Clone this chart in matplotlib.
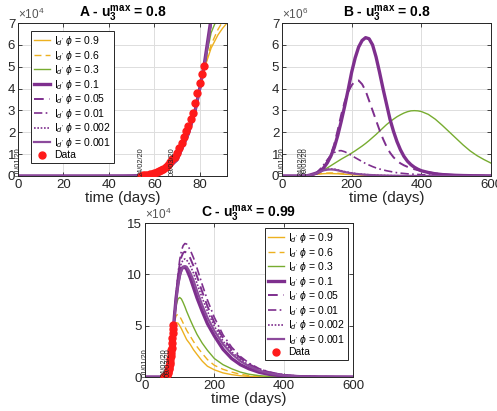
import numpy as np
import matplotlib.pyplot as plt
plt.switch_backend('agg')

plt.rcParams['font.family'] = ['Liberation Sans', 'DejaVu Sans']
plt.rcParams['mathtext.fontset'] = 'custom'
plt.rcParams['mathtext.rm'] = 'Liberation Sans'
plt.rcParams['mathtext.it'] = 'Liberation Sans:italic'
plt.rcParams['mathtext.bf'] = 'Liberation Sans:bold'

# ---- reported data (Italy, active cases), days since 01/01/20
data_t = np.arange(54, 83)
data_y = [221, 311, 385, 588, 821, 1049, 1577, 1835, 2263, 2706, 3296, 3916,
          5061, 6387, 7985, 8514, 10590, 12839, 14955, 17750, 20603, 23073,
          26062, 28710, 33190, 37860, 42681, 46638, 50418]

date_pos = [0, 54, 68]
date_txt = ['01/01/20', '24/02/20', '09/03/20']

phis = ['0.9', '0.6', '0.3', '0.1', '0.05', '0.01', '0.002', '0.001']

# ---- panel A, u3max = 0.8, early phase (units of 1e4)
tA = [0, 30, 45, 50, 55, 60, 65, 70, 75, 78, 80, 82, 85, 88, 90, 92]
A_09 = [0, 0, 0.002, 0.005, 0.015, 0.07, 0.25, 0.75, 1.95, 3.0, 3.85, 4.9, 5.85, 6.45, 6.75, 7.0]
A_06 = [0, 0, 0.002, 0.005, 0.015, 0.07, 0.25, 0.75, 1.95, 3.0, 3.9, 4.95, 6.0, 6.7, 7.05, 7.4]
A_03 = [0, 0, 0.002, 0.005, 0.015, 0.07, 0.25, 0.75, 1.95, 3.0, 3.95, 5.0, 6.55, 7.3, 7.8, 8.4]
A_01 = [0, 0, 0.002, 0.005, 0.015, 0.07, 0.25, 0.75, 1.95, 3.0, 4.0, 5.1, 7.2, 10, 12, 14]
A_005 = [0, 0, 0.002, 0.005, 0.015, 0.07, 0.24, 0.72, 1.9, 2.95, 3.95, 5.05, 7.1, 9.8, 11.8, 13.8]
A_001 = [0, 0, 0.002, 0.005, 0.015, 0.07, 0.24, 0.72, 1.9, 2.95, 3.95, 5.0, 7.0, 9.6, 11.5, 13.5]
A_0002 = [0, 0, 0.002, 0.005, 0.015, 0.07, 0.24, 0.72, 1.9, 2.95, 3.95, 5.0, 7.0, 9.5, 11.3, 13.2]
A_0001 = [0, 0, 0.002, 0.005, 0.015, 0.07, 0.24, 0.72, 1.9, 2.95, 3.95, 5.0, 7.0, 9.5, 11.3, 13.2]

# ---- panel B, u3max = 0.8, full horizon (units of 1e6)
tB = [0, 50, 70, 80, 90, 100, 110, 120, 130, 140, 150, 160, 170, 180, 190, 200,
      210, 220, 230, 240, 250, 260, 270, 280, 290, 300, 310, 320, 330, 340, 350,
      360, 370, 380, 390, 400, 420, 440, 460, 480, 500, 520, 540, 560, 580, 600]
B_09 = [0, 0, 0.005, 0.03, 0.06, 0.08, 0.095, 0.105, 0.11, 0.11, 0.105, 0.1, 0.09, 0.08, 0.07, 0.06,
        0.053, 0.047, 0.04, 0.034, 0.029, 0.025, 0.021, 0.018, 0.015, 0.012, 0.01, 0.008, 0.007, 0.005, 0.004,
        0.003, 0.003, 0.002, 0.002, 0.001, 0, 0, 0, 0, 0, 0, 0, 0, 0, 0]
B_06 = [0, 0, 0.005, 0.03, 0.065, 0.09, 0.11, 0.125, 0.135, 0.14, 0.135, 0.125, 0.115, 0.1, 0.09, 0.078,
        0.068, 0.059, 0.05, 0.043, 0.037, 0.032, 0.027, 0.023, 0.019, 0.016, 0.013, 0.011, 0.009, 0.007, 0.006,
        0.004, 0.004, 0.003, 0.002, 0.002, 0, 0, 0, 0, 0, 0, 0, 0, 0, 0]
B_03 = [0, 0, 0.005, 0.03, 0.07, 0.13, 0.2, 0.28, 0.37, 0.47, 0.57, 0.67, 0.77, 0.86, 0.95, 1.05,
        1.15, 1.26, 1.37, 1.49, 1.62, 1.76, 1.9, 2.05, 2.2, 2.35, 2.48, 2.6, 2.71, 2.8, 2.88,
        2.94, 2.98, 2.99, 2.98, 2.95, 2.82, 2.6, 2.32, 2.02, 1.72, 1.42, 1.15, 0.93, 0.75, 0.59]
B_01 = [0, 0, 0.005, 0.04, 0.09, 0.14, 0.22, 0.38, 0.6, 0.9, 1.3, 1.85, 2.5, 3.2, 3.95, 4.75,
        5.4, 5.9, 6.2, 6.33, 6.28, 6.0, 5.45, 4.75, 4.0, 3.3, 2.6, 2.05, 1.58, 1.2, 0.9,
        0.68, 0.52, 0.4, 0.31, 0.24, 0.16, 0.1, 0.065, 0.045, 0.03, 0.02, 0.014, 0.01, 0.007, 0.005]
B_005 = [0, 0, 0.005, 0.03, 0.06, 0.11, 0.24, 0.42, 0.66, 0.98, 1.45, 2.1, 2.8, 3.4, 3.85, 4.15,
         4.35, 4.37, 4.2, 3.9, 3.45, 3.0, 2.55, 2.1, 1.7, 1.35, 1.07, 0.86, 0.7, 0.58, 0.49,
         0.42, 0.36, 0.31, 0.27, 0.23, 0.17, 0.12, 0.085, 0.06, 0.04, 0.03, 0.02, 0.015, 0.012, 0.01]
B_001 = [0, 0, 0.01, 0.04, 0.08, 0.17, 0.33, 0.52, 0.74, 0.94, 1.07, 1.15, 1.16, 1.11, 1.03, 0.94,
         0.84, 0.75, 0.66, 0.57, 0.5, 0.43, 0.37, 0.32, 0.28, 0.24, 0.21, 0.18, 0.15, 0.13, 0.115,
         0.1, 0.09, 0.08, 0.07, 0.06, 0.045, 0.035, 0.028, 0.022, 0.018, 0.014, 0.011, 0.009, 0.007, 0.005]
B_0002 = [0, 0, 0.01, 0.04, 0.08, 0.14, 0.21, 0.27, 0.31, 0.32, 0.31, 0.28, 0.24, 0.2, 0.17, 0.14,
          0.115, 0.095, 0.08, 0.065, 0.055, 0.045, 0.037, 0.03, 0.025, 0.02, 0.017, 0.014, 0.012, 0.01, 0.008,
          0.007, 0.006, 0.005, 0.004, 0.003, 0.002, 0.002, 0.001, 0.001, 0, 0, 0, 0, 0, 0]
B_0001 = [0, 0, 0.01, 0.04, 0.08, 0.13, 0.2, 0.26, 0.29, 0.3, 0.29, 0.26, 0.22, 0.18, 0.15, 0.12,
          0.1, 0.085, 0.07, 0.058, 0.048, 0.04, 0.033, 0.027, 0.022, 0.018, 0.015, 0.012, 0.01, 0.008, 0.007,
          0.006, 0.005, 0.004, 0.003, 0.003, 0.002, 0.001, 0.001, 0, 0, 0, 0, 0, 0, 0]

# ---- panel C, u3max = 0.99 (units of 1e4)
tC = [0, 50, 55, 60, 65, 70, 75, 80, 85, 90, 95, 100, 105, 110, 115, 120,
      130, 140, 150, 165, 180, 200, 225, 250, 275, 300, 330, 360, 400, 450, 500, 600]
C_09 = [0, 0, 0.03, 0.1, 0.3, 0.9, 2.0, 3.9, 4.9, 5.3, 5.25, 5.0, 4.7, 4.35, 4.0, 3.65,
        3.2, 2.65, 2.2, 1.55, 1.05, 0.7, 0.4, 0.23, 0.12, 0.06, 0.03, 0.01, 0, 0, 0, 0]
C_06 = [0, 0, 0.03, 0.1, 0.3, 0.9, 2.0, 4.0, 5.4, 6.0, 6.1, 5.9, 5.6, 5.25, 4.9, 4.55,
        4.0, 3.45, 2.95, 2.3, 1.7, 1.14, 0.75, 0.48, 0.27, 0.14, 0.06, 0.03, 0.01, 0, 0, 0]
C_03 = [0, 0, 0.03, 0.1, 0.3, 0.9, 2.0, 4.0, 5.8, 7.0, 7.6, 7.75, 7.6, 7.25, 6.85, 6.4,
        5.6, 4.85, 4.15, 3.3, 2.6, 1.8, 1.2, 0.8, 0.48, 0.27, 0.13, 0.06, 0.02, 0, 0, 0]
C_01 = [0, 0, 0.03, 0.1, 0.3, 0.9, 2.0, 4.0, 6.0, 7.8, 9.1, 10.0, 10.5, 10.7, 10.7, 10.5,
        9.7, 8.7, 7.7, 6.4, 5.2, 4.0, 2.7, 1.8, 1.2, 0.8, 0.45, 0.25, 0.1, 0.03, 0.01, 0]
C_005 = [0, 0, 0.03, 0.1, 0.3, 0.9, 2.0, 4.0, 6.1, 8.1, 9.8, 11.0, 11.7, 12.1, 12.2, 12.1,
         11.6, 10.8, 9.8, 8.3, 6.9, 5.3, 3.8, 2.65, 1.85, 1.25, 0.75, 0.45, 0.2, 0.07, 0.02, 0]
C_001 = [0, 0, 0.03, 0.1, 0.3, 0.9, 2.0, 4.0, 6.1, 8.2, 10.0, 11.4, 12.3, 12.8, 13.0, 12.95,
         12.4, 11.6, 10.6, 9.0, 7.5, 5.8, 4.1, 2.9, 2.0, 1.35, 0.8, 0.48, 0.22, 0.08, 0.03, 0]
C_0002 = [0, 0, 0.03, 0.1, 0.3, 0.9, 2.0, 4.0, 6.0, 7.9, 9.4, 10.5, 11.1, 11.4, 11.5, 11.4,
          10.9, 10.1, 9.1, 7.7, 6.4, 4.95, 3.5, 2.45, 1.7, 1.15, 0.7, 0.4, 0.18, 0.06, 0.02, 0]
C_0001 = [0, 0, 0.03, 0.1, 0.3, 0.9, 2.0, 4.0, 5.9, 7.6, 8.9, 9.8, 10.4, 10.7, 10.8, 10.75,
          10.2, 9.4, 8.4, 7.0, 5.8, 4.5, 3.2, 2.25, 1.55, 1.05, 0.62, 0.35, 0.15, 0.05, 0.02, 0]

orange = '#EDB120'
green = '#77AC30'
purple = '#7E2F8E'
styles = [
    dict(color=orange, lw=1.0, ls='-'),
    dict(color=orange, lw=1.0, ls=(0, (5, 3))),
    dict(color=green, lw=1.0, ls='-'),
    dict(color=purple, lw=2.4, ls='-'),
    dict(color=purple, lw=1.4, ls=(0, (5, 3))),
    dict(color=purple, lw=1.2, ls=(0, (5, 2, 1, 2))),
    dict(color=purple, lw=1.2, ls=(0, (1, 1))),
    dict(color='#8C4A9C', lw=1.6, ls='-'),
]


def draw(ax, t, series, scale, xmax, ymax, exp, title, data=True, legend=None):
    for y, st, p in zip(series, styles, phis):
        ax.plot(t, np.array(y), label="I$_{d'}$ $\\phi$ = %s" % p,
                solid_joinstyle='round', dash_joinstyle='round', **st)
    if data:
        ax.plot(data_t, np.array(data_y) / scale, 'o', color='#FF1A1A', ms=5,
                mec='#FF1A1A', label='Data', zorder=5)
    for xp, s in zip(date_pos, date_txt):
        ax.text(xp, 0, s, rotation=90, fontsize=5.3, ha='center', va='bottom',
                clip_on=False, zorder=6, color='#222222')
    ax.set_xlim(0, xmax)
    ax.set_ylim(0, ymax)
    ax.grid(True, color='#DDDDDD', lw=0.7)
    ax.set_axisbelow(True)
    ax.tick_params(direction='in', top=True, right=True, length=3, width=0.6,
                   labelsize=9.5, colors='#262626', pad=2)
    for sp in ax.spines.values():
        sp.set_linewidth(0.7)
        sp.set_color('#262626')
    ax.set_xlabel('time (days)', fontsize=11, labelpad=0, color='#262626')
    ax.text(0.0, 1.005, r'$\times10^{%d}$' % exp, transform=ax.transAxes,
            fontsize=8.5, color='#555555', ha='left', va='bottom')
    ax.set_title(title, fontsize=10, fontweight='bold', pad=4)
    if legend:
        loc, anchor = legend
        leg = ax.legend(loc=loc, bbox_to_anchor=anchor, fontsize=7.5,
                        handlelength=1.5, handletextpad=0.4, labelspacing=0.05,
                        borderpad=0.3, borderaxespad=0, fancybox=False,
                        edgecolor='#262626', framealpha=1)
        leg.get_frame().set_linewidth(0.7)


fig = plt.figure(figsize=(4.97, 4.11), dpi=100)
axA = fig.add_axes([0.0362, 0.5718, 0.4205, 0.3722])
axB = fig.add_axes([0.5674, 0.5718, 0.4205, 0.3722])
axC = fig.add_axes([0.2918, 0.0827, 0.4185, 0.3747])

draw(axA, tA, [A_09, A_06, A_03, A_01, A_005, A_001, A_0002, A_0001], 1e4, 92, 7, 4,
     r'A - u$_\mathbf{3}^\mathbf{max}$ = 0.8', legend=('upper left', (0.062, 0.948)))
draw(axB, tB, [B_09, B_06, B_03, B_01, B_005, B_001, B_0002, B_0001], 1e6, 600, 7, 6,
     r'B - u$_\mathbf{3}^\mathbf{max}$ = 0.8', data=False)
draw(axC, tC, [C_09, C_06, C_03, C_01, C_005, C_001, C_0002, C_0001], 1e4, 600, 15, 4,
     r'C - u$_\mathbf{3}^\mathbf{max}$ = 0.99', legend=('upper right', (0.976, 0.968)))

axA.set_xticks([0, 20, 40, 60, 80])
axA.set_yticks(range(8))
axB.set_xticks([0, 200, 400, 600])
axB.set_yticks(range(8))
axC.set_xticks([0, 200, 400, 600])
axC.set_yticks([0, 5, 10, 15])

fig.savefig('out.png', dpi=100)
